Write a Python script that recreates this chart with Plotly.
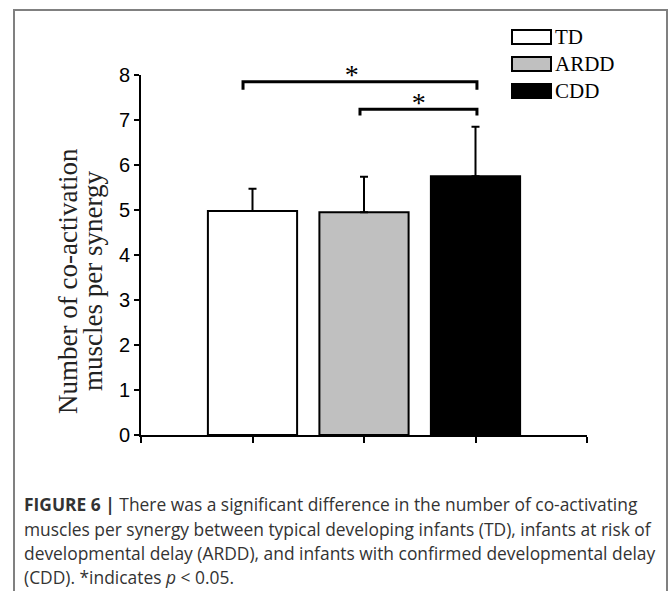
import plotly.graph_objects as go

# ---- data ----
groups = ["TD", "ARDD", "CDD"]
x_pos = [1, 2, 3]
means = [4.98, 4.95, 5.75]
sd_plus = [0.49, 0.79, 1.10]
fills = ["white", "#c0c0c0", "black"]

# significance brackets: (x start, x end, bar height, drop)
brackets_x0 = [0.915, 1.964]
brackets_x1 = [3.013, 3.013]
brackets_y = [7.85, 7.24]
brackets_drop = [0.18, 0.14]
star_x = [1.89, 2.49]
star_y = [7.96, 7.34]

y_ticks = list(range(0, 9))
x_ticks = [0, 1, 2, 3, 4]

y_title_lines = ["Number of co-activation", "muscles per synergy"]

caption_lines = [
    "<b>FIGURE 6 |</b> There was a significant difference in the number of co-activating",
    "muscles per synergy between typical developing infants (TD), infants at risk of",
    "developmental delay (ARDD), and infants with confirmed developmental delay",
    "(CDD). *indicates <i>p</i> &lt; 0.05.",
]

W, H = 670, 591
L, R, T, B = 141, 83, 75, 156
pw, ph = W - L - R, H - T - B


def px(xp):
    return (xp - L) / pw


def py(yp):
    return (H - B - yp) / ph


fig = go.Figure()
fig.add_trace(go.Bar(
    x=x_pos, y=means, width=0.8,
    marker=dict(color=fills, line=dict(color="black", width=2)),
    error_y=dict(type="data", symmetric=False, array=sd_plus,
                 arrayminus=[0, 0, 0], color="black", thickness=2, width=4),
    showlegend=False, cliponaxis=False, hoverinfo="skip",
))
fig.add_trace(go.Scatter(
    x=star_x, y=star_y, mode="text", text=["*"] * len(star_x),
    textposition="middle center", cliponaxis=False, showlegend=False,
    textfont=dict(family="Liberation Serif", size=28, color="black"), hoverinfo="skip",
))

shapes = []
for x0, x1, yb, d in zip(brackets_x0, brackets_x1, brackets_y, brackets_drop):
    shapes.append(dict(type="path", xref="x", yref="y",
                       path=f"M{x0},{yb - d} L{x0},{yb} L{x1},{yb} L{x1},{yb - d}",
                       line=dict(color="black", width=3)))

annotations = []

# custom legend
leg_y = [37, 64, 91]
for g, c, ly in zip(groups, fills, leg_y):
    shapes.append(dict(type="rect", xref="paper", yref="paper",
                       x0=px(512), x1=px(551), y0=py(ly - 7), y1=py(ly + 7),
                       fillcolor=c, line=dict(color="black", width=2)))
    annotations.append(dict(x=px(553), y=py(ly), xref="paper", yref="paper", text=g,
                            showarrow=False, xanchor="left", yanchor="middle",
                            font=dict(family="Liberation Serif", size=21, color="black")))

# y axis title (two lines)
for line, tx in zip(y_title_lines, [68, 93]):
    annotations.append(dict(x=px(tx), y=py(281), xref="paper", yref="paper",
                            text=line, textangle=-90, showarrow=False,
                            xanchor="center", yanchor="middle",
                            font=dict(family="Liberation Serif", size=27, color="#222")))

# frame
shapes.append(dict(type="path", xref="paper", yref="paper",
                   path=f"M{px(14)},{py(620)} L{px(14)},{py(10)} L{px(667)},{py(10)} L{px(667)},{py(620)}",
                   line=dict(color="#808080", width=2)))

# caption
cap_y = [504, 528.5, 553, 577]
for line, cy in zip(caption_lines, cap_y):
    annotations.append(dict(x=px(22), y=py(cy), xref="paper", yref="paper", text=line,
                            showarrow=False, xanchor="left", yanchor="middle",
                            font=dict(family="Open Sans", size=17.4, color="#333")))

fig.update_layout(
    width=W, height=H, margin=dict(l=L, r=R, t=T, b=B, pad=0),
    paper_bgcolor="white", plot_bgcolor="white",
    shapes=shapes, annotations=annotations,
    xaxis=dict(range=[0, 4], tickvals=x_ticks, ticktext=[""] * 5, showgrid=False,
               zeroline=False, showline=True, linecolor="black", linewidth=2,
               ticks="outside", ticklen=6, tickwidth=2, tickcolor="black"),
    yaxis=dict(range=[0, 8], tickvals=y_ticks, showgrid=False, zeroline=False,
               showline=True, linecolor="black", linewidth=2,
               ticks="outside", ticklen=5, tickwidth=1.5, tickcolor="black",
               tickfont=dict(family="Liberation Sans", size=20, color="black")),
)

fig.write_html("out.html")
